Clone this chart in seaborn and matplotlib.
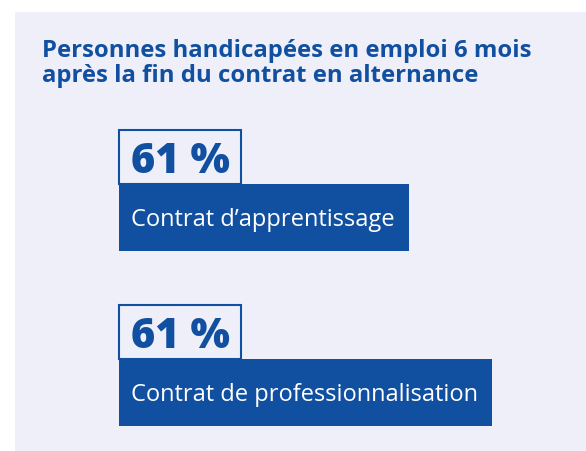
import matplotlib.pyplot as plt
import seaborn as sns
from matplotlib.patches import Rectangle

# chart content
title = "Personnes handicapées en emploi 6 mois\naprès la fin du contrat en alternance"
contracts = ["Contrat d’apprentissage", "Contrat de professionnalisation"]
rates = [61, 61]

BLUE = "#1150A0"
PANEL = "#EFEFF9"

sns.set_theme(style="white")
plt.rcParams["font.family"] = ["Open Sans", "DejaVu Sans"]

fig = plt.figure(figsize=(5.86, 4.51), dpi=100)
fig.patch.set_facecolor("white")
ax = fig.add_axes([0, 0, 1, 1])
ax.set_xlim(0, 586)
ax.set_ylim(451, 0)
ax.axis("off")

# light background panel
ax.add_patch(Rectangle((15, 12), 571, 439, color=PANEL, lw=0, zorder=0))

# baseline of the last title line
ax.text(42, 82, title, fontsize=17.2, fontweight="bold", color=BLUE,
        va="baseline", ha="left", linespacing=1.05)

renderer = fig.canvas.get_renderer()
inv = ax.transData.inverted()

for i, (name, rate) in enumerate(zip(contracts, rates)):
    top = 130 + i * 175
    pct = ax.text(131, top + 43, f"{rate} %", fontsize=30, fontweight="heavy",
                  color=BLUE, va="baseline", ha="left", zorder=3)
    lab = ax.text(131, top + 96, name, fontsize=17,
                  color="white", va="baseline", ha="left", zorder=3)

    # boxes sized from the rendered text
    pb = pct.get_window_extent(renderer).transformed(inv)
    lb = lab.get_window_extent(renderer).transformed(inv)
    ax.add_patch(Rectangle((119, top), pb.x1 + 11 - 119, 54, facecolor="none",
                           edgecolor=BLUE, lw=1.5, zorder=2))
    ax.add_patch(Rectangle((119, top + 54), lb.x1 + 14 - 119, 67, facecolor=BLUE,
                           edgecolor="none", zorder=2))

fig.savefig("out.png", dpi=100)
